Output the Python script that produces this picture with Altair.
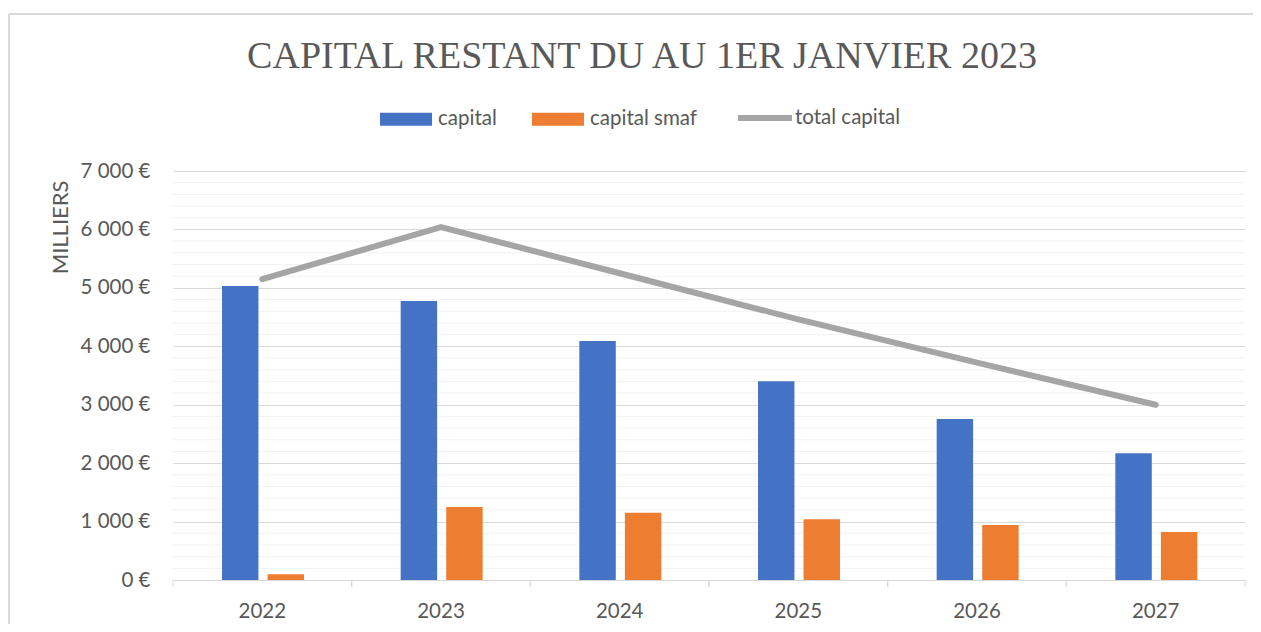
import altair as alt
import pandas as pd

# ---- data (in thousands of euros) ----
years = ["2022", "2023", "2024", "2025", "2026", "2027"]
capital = [5030, 4775, 4090, 3400, 2755, 2170]
capital_smaf = [100, 1250, 1150, 1040, 940, 820]
total_capital = [5150, 6040, 5250, 4460, 3720, 3000]
series_bars = ["capital", "capital smaf"]
series_line = ["total capital"]
major_ticks = list(range(0, 7001, 1000))
minor_ticks = [v for v in range(200, 7000, 200) if v % 1000 != 0]

bars_df = pd.DataFrame({
    "year": years * 2,
    "serie": [series_bars[0]] * len(years) + [series_bars[1]] * len(years),
    "value": capital + capital_smaf,
})
line_df = pd.DataFrame({"year": years, "serie_l": series_line * len(years), "value": total_capital})
minor_df = pd.DataFrame({"value": minor_ticks})
years_df = pd.DataFrame({"year": years})

W, H = 1072, 409
FONT = "Lato"
TXT = "#595959"
GRID = "#D9D9D9"
LBL = 20.5

xscale = alt.Scale(domain=years, paddingInner=0, paddingOuter=0)
yscale = alt.Scale(domain=[0, 7000], nice=False)

yaxis = alt.Axis(values=major_ticks, grid=True, gridColor=GRID, domain=False, ticks=False,
                 labelPadding=23, labelFont=FONT, labelFontSize=LBL, labelColor=TXT,
                 labelExpr="replace(format(datum.value, ','), ',', ' ') + ' €'",
                 title="MILLIERS", titleFont=FONT, titleFontSize=22, titleFontWeight="normal",
                 titleColor=TXT, titleAngle=-90, titleAlign="right", titleBaseline="alphabetic",
                 titleX=-106, titleY=9)

minor = alt.Chart(minor_df).mark_rule(color="#F2F2F2", strokeWidth=1).encode(
    y=alt.Y("value:Q", scale=yscale, axis=yaxis)
)

bars = alt.Chart(bars_df).mark_bar().encode(
    x=alt.X("year:N", scale=xscale, sort=years,
            axis=alt.Axis(title=None, labelAngle=0, ticks=False, grid=False,
                          domainColor=GRID, domainWidth=1, labelPadding=21,
                          labelFont=FONT, labelFontSize=LBL, labelColor=TXT)),
    xOffset=alt.XOffset("serie:N", sort=series_bars,
                        scale=alt.Scale(domain=series_bars, range=[49, 131],
                                        paddingInner=0.2, paddingOuter=0)),
    y=alt.Y("value:Q", scale=yscale, axis=yaxis),
    color=alt.Color("serie:N", sort=series_bars,
                    scale=alt.Scale(domain=series_bars, range=["#4472C4", "#ED7D31"]),
                    legend=alt.Legend(title=None, orient="none", direction="horizontal",
                                      legendX=207, legendY=-78,
                                      symbolType="M-1,-0.25L1,-0.25L1,0.25L-1,0.25Z",
                                      symbolSize=2704, symbolStrokeWidth=0, symbolOpacity=1,
                                      labelFont=FONT, labelFontSize=LBL, labelColor=TXT,
                                      labelOffset=6, columnPadding=35)),
)

line = alt.Chart(line_df).mark_line(strokeWidth=6, strokeCap="round", strokeJoin="round").encode(
    x=alt.X("year:N", scale=xscale, bandPosition=0.5, sort=years),
    y=alt.Y("value:Q", scale=yscale, axis=yaxis),
    stroke=alt.Stroke("serie_l:N",
                      scale=alt.Scale(domain=series_line, range=["#A5A5A5"]),
                      legend=alt.Legend(title=None, orient="none", direction="horizontal",
                                        legendX=562, legendY=-83,
                                        symbolType="stroke", symbolSize=2916, symbolStrokeWidth=6,
                                        labelFont=FONT, labelFontSize=LBL, labelColor=TXT,
                                        labelOffset=0)),
)

ticks_start = alt.Chart(years_df).mark_rule(color=GRID, strokeWidth=1).encode(
    x=alt.X("year:N", scale=xscale, bandPosition=0, sort=years),
    y=alt.value(H), y2=alt.value(H + 7),
)
ticks_end = alt.Chart(years_df).mark_rule(color=GRID, strokeWidth=1).encode(
    x=alt.X("year:N", scale=xscale, bandPosition=1, sort=years),
    y=alt.value(H), y2=alt.value(H + 7),
)

frame_left = alt.Chart(years_df).mark_rule(color="#D9D9D9", strokeWidth=2).encode(
    x=alt.value(-164), y=alt.value(-157), y2=alt.value(H + 60)
)
frame_top = alt.Chart(years_df).mark_rule(color="#D9D9D9", strokeWidth=2).encode(
    x=alt.value(-164), x2=alt.value(W + 40), y=alt.value(-157)
)

chart = alt.layer(minor, bars, line, ticks_start, ticks_end, frame_left, frame_top).resolve_scale(
    color="independent", stroke="independent"
).properties(
    width=W, height=H,
    title=alt.TitleParams("CAPITAL RESTANT DU AU 1ER JANVIER 2023", font="Liberation Serif",
                          fontSize=38, fontWeight="normal", color=TXT, anchor="middle",
                          frame="group", dx=-67, offset=10, dy=73),
    autosize=alt.AutoSizeParams(type="none"),
    padding={"left": 165, "top": 163, "right": 8, "bottom": 44},
).configure(background="white").configure_view(stroke=None)

chart.save("out.html", embed_options={"renderer": "svg", "actions": False})
